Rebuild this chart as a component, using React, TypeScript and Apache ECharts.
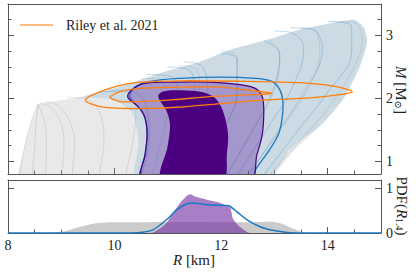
import React, { useEffect, useRef } from "react";
import * as echarts from "echarts";

// ---------- tick values ----------
const R_MAJOR = [8, 10, 12, 14];
const R_MINOR = [8.5, 9, 9.5, 10, 10.5, 11, 11.5, 12, 12.5, 13, 13.5, 14, 14.5];
const M_MAJOR = [1, 2, 3];
const M_MINOR = [1, 1.25, 1.5, 1.75, 2, 2.25, 2.5, 2.75, 3, 3.25];
const PDF_TICKS = [0, 1];

// ---------- M-R bundles (R km, M Msun) ----------
const GRAY_ENVELOPE: number[][] = [
  [8.2, 0.75], [8.25, 1.0], [8.33, 1.3], [8.43, 1.6], [8.52, 1.82], [8.56, 1.91],
  [8.9, 1.96], [9.4, 2.03], [10.0, 2.16], [10.5, 2.3], [11.0, 2.44], [11.6, 2.58],
  [12.2, 2.78], [12.9, 2.94], [13.5, 3.1], [14.1, 3.2], [14.5, 3.25], [14.68, 3.12],
  [14.74, 2.9], [14.6, 2.5], [14.3, 2.0], [13.9, 1.6], [13.4, 1.2], [13.0, 0.8], [12.95, 0.75],
];
const BLUE_ENVELOPE: number[][] = [
  [10.4, 0.75], [10.45, 1.3], [10.35, 1.75], [10.0, 1.98], [9.4, 2.02],
  [10.0, 2.16], [10.5, 2.3], [11.0, 2.44], [11.6, 2.58], [12.2, 2.78], [12.9, 2.94],
  [13.5, 3.1], [14.1, 3.2], [14.5, 3.25], [14.68, 3.12], [14.74, 2.9], [14.6, 2.5],
  [14.3, 2.0], [13.9, 1.6], [13.3, 1.2], [12.9, 0.75],
];
const GRAY_CURVES: number[][][] = [
  [[8.22, 0.78], [8.28, 1.1], [8.36, 1.4], [8.46, 1.7], [8.56, 1.9]],
  [[8.45, 0.78], [8.5, 1.2], [8.52, 1.55], [8.55, 1.78], [8.58, 1.9]],
  [[8.7, 0.78], [8.72, 1.2], [8.7, 1.55], [8.62, 1.8], [8.56, 1.91]],
  [[9.0, 0.78], [9.05, 1.2], [9.0, 1.6], [8.8, 1.86], [8.6, 1.92]],
  [[9.2, 0.78], [9.25, 1.3], [9.15, 1.65], [8.95, 1.88], [8.7, 1.95]],
  [[9.7, 0.78], [9.8, 1.3], [9.75, 1.7], [9.5, 1.98], [9.1, 2.02]],
  [[10.2, 0.78], [10.35, 1.35], [10.4, 1.8], [10.2, 2.12], [9.8, 2.14]],
  [[10.7, 0.78], [10.9, 1.4], [11.0, 1.9], [10.85, 2.3], [10.5, 2.32]],
  [[11.2, 0.78], [11.45, 1.45], [11.6, 2.0], [11.55, 2.45], [11.2, 2.52]],
  [[11.7, 0.78], [12.05, 1.5], [12.3, 2.1], [12.3, 2.65], [12.0, 2.76]],
  [[12.1, 0.78], [12.55, 1.45], [12.95, 2.1], [13.1, 2.7], [12.9, 2.93]],
  [[12.5, 0.78], [13.0, 1.4], [13.5, 2.05], [13.85, 2.7], [13.8, 3.05], [13.5, 3.12]],
  [[12.9, 0.78], [13.5, 1.35], [14.1, 1.95], [14.55, 2.6], [14.65, 2.95], [14.45, 3.22], [14.1, 3.22]],
];
const BLUE_CURVES: number[][][] = [
  [[10.5, 0.78], [10.65, 1.4], [10.6, 1.85], [10.3, 2.12], [9.7, 2.1]],
  [[10.9, 0.78], [11.1, 1.45], [11.2, 1.95], [11.05, 2.35], [10.6, 2.38]],
  [[11.0, 0.78], [11.3, 1.5], [11.5, 2.1], [11.4, 2.45], [11.0, 2.5]],
  [[11.3, 0.78], [11.6, 1.5], [11.75, 2.05], [11.65, 2.5], [11.3, 2.58]],
  [[11.7, 0.78], [12.05, 1.5], [12.3, 2.1], [12.3, 2.62], [12.0, 2.72]],
  [[12.1, 0.78], [12.6, 1.5], [13.0, 2.15], [13.1, 2.7], [12.8, 2.92]],
  [[12.3, 0.78], [12.85, 1.5], [13.35, 2.2], [13.55, 2.8], [13.3, 3.05], [13.0, 3.07]],
  [[12.5, 0.78], [13.1, 1.5], [13.65, 2.2], [13.9, 2.8], [13.7, 3.1], [13.3, 3.12]],
  [[12.8, 0.78], [13.4, 1.45], [14.0, 2.1], [14.45, 2.75], [14.45, 3.15], [14.0, 3.22]],
];

// ---------- credible regions ----------
const PURPLE_OUTER: number[][] = [
  [10.52, 0.7], [10.57, 1.1], [10.61, 1.42], [10.57, 1.7], [10.44, 1.87], [10.25, 2.02],
  [10.33, 2.14], [10.57, 2.24], [11.13, 2.26], [11.79, 2.26], [12.35, 2.22], [12.64, 2.16],
  [12.77, 2.03], [12.8, 1.79], [12.77, 1.42], [12.67, 1.1], [12.54, 0.7],
];
const PURPLE_INNER: number[][] = [
  [10.89, 0.7], [11.0, 1.26], [11.04, 1.58], [10.98, 1.79], [10.82, 2.03], [10.91, 2.11],
  [11.23, 2.13], [11.66, 2.1], [11.85, 2.03], [11.98, 1.9], [12.07, 1.7], [12.13, 1.42],
  [12.11, 1.15], [12.02, 0.7],
];
const BLUE_CONTOUR: number[][] = [
  [10.53, 0.7], [10.59, 1.18], [10.61, 1.5], [10.52, 1.79], [10.29, 2.02], [10.38, 2.18],
  [10.67, 2.27], [11.23, 2.32], [11.98, 2.34], [12.64, 2.32], [12.95, 2.27], [13.1, 2.14],
  [13.16, 1.94], [13.14, 1.66], [13.07, 1.42], [12.88, 1.15], [12.64, 0.86], [12.58, 0.7],
];
const RILEY_OUTER: number[][] = [
  [9.45, 1.97], [9.73, 2.11], [10.29, 2.24], [11.23, 2.28], [12.54, 2.27], [13.48, 2.25],
  [14.14, 2.19], [14.46, 2.11], [14.23, 2.06], [13.67, 2.01], [12.69, 1.97], [11.17, 1.86],
  [10.29, 1.84], [9.73, 1.87],
];
const RILEY_INNER: number[][] = [
  [9.91, 2.02], [10.1, 2.11], [10.48, 2.16], [11.23, 2.18], [11.98, 2.18], [12.54, 2.13],
  [12.95, 2.08], [12.6, 2.06], [11.79, 2.03], [11.13, 1.98], [10.48, 1.95], [10.1, 1.95],
];

// ---------- PDF(R_1.4) ----------
const PDF_PRIOR: number[][] = [
  [8.0, 0], [8.7, 0], [8.9, 0.01], [9.1, 0.05], [9.3, 0.12], [9.5, 0.18], [9.7, 0.22],
  [10.0, 0.24], [10.5, 0.24], [11.0, 0.245], [11.5, 0.245], [12.0, 0.24], [12.5, 0.24],
  [12.9, 0.25], [13.1, 0.22], [13.3, 0.12], [13.5, 0.03], [13.6, 0], [15, 0],
];
const PDF_NICER: number[][] = [
  [10.6, 0], [10.72, 0.01], [10.85, 0.1], [10.98, 0.23], [11.1, 0.45], [11.23, 0.67],
  [11.36, 0.83], [11.42, 0.86], [11.51, 0.81], [11.73, 0.74], [11.98, 0.67], [12.17, 0.56],
  [12.22, 0.32], [12.35, 0.14], [12.54, 0], [12.6, 0],
];
const PDF_POSTERIOR: number[][] = [
  [8, 0], [10.2, 0], [10.48, 0.01], [10.72, 0.07], [10.98, 0.3], [11.17, 0.52], [11.36, 0.65],
  [11.47, 0.67], [11.73, 0.63], [12.11, 0.61], [12.17, 0.59], [12.3, 0.47], [12.48, 0.3],
  [12.73, 0.14], [12.97, 0.06], [13.24, 0.01], [13.5, 0], [15, 0],
];

const SERIF = '"Liberation Serif", "DejaVu Serif", serif';
const FRAME = "#555";
const ORANGE = "#ff7f0e";
const BLUE = "#1a78c2";
const INDIGO = "#4b0082";

function polygon(pts: number[][], style: any, z: number, smooth = 0.35) {
  return {
    type: "custom",
    xAxisIndex: 0,
    yAxisIndex: 0,
    clip: true,
    silent: true,
    z,
    data: [[pts[0][0], pts[0][1]]],
    renderItem: (_p: any, api: any) => ({
      type: "polygon",
      shape: { points: pts.map((p) => api.coord(p)), smooth },
      style,
    }),
  };
}

function curve(pts: number[][], color: string, z: number) {
  return {
    type: "line",
    xAxisIndex: 0,
    yAxisIndex: 0,
    data: pts,
    smooth: 0.4,
    symbol: "none",
    silent: true,
    clip: true,
    z,
    lineStyle: { color, width: 0.6 },
  };
}

const lineStyle = { color: FRAME, width: 1 };

export default function App() {
  const ref = useRef<HTMLDivElement>(null);
  useEffect(() => {
    const chart = echarts.init(ref.current!, null, { renderer: "svg" });
    const xBase = { type: "value", min: 8, max: 15, splitLine: { show: false } };
    const yTop = { type: "value", min: 0.8, max: 3.5, gridIndex: 0, splitLine: { show: false } };
    const yBot = { type: "value", min: 0, max: 1.18, gridIndex: 1, splitLine: { show: false } };
    const label = { fontFamily: SERIF, fontSize: 14, color: "#222" };
    const series: any[] = [];
    series.push(polygon(GRAY_ENVELOPE, { fill: "rgba(175,175,175,0.28)" }, 1, 0.2));
    GRAY_CURVES.forEach((c) => series.push(curve(c, "rgba(140,140,140,0.4)", 2)));
    series.push(polygon(BLUE_ENVELOPE, { fill: "rgba(90,160,210,0.2)" }, 3, 0.2));
    BLUE_CURVES.forEach((c) => series.push(curve(c, "rgba(40,130,195,0.5)", 4)));
    series.push(polygon(BLUE_CONTOUR, { fill: "none", stroke: BLUE, lineWidth: 1.3 }, 5));
    series.push(polygon(PURPLE_OUTER, { fill: "rgba(110,60,170,0.42)", stroke: INDIGO, lineWidth: 1.2 }, 6));
    series.push(polygon(PURPLE_INNER, { fill: INDIGO }, 7));
    series.push(polygon(RILEY_OUTER, { fill: "none", stroke: ORANGE, lineWidth: 1.3 }, 8, 0.3));
    series.push(polygon(RILEY_INNER, { fill: "none", stroke: ORANGE, lineWidth: 1.3 }, 8, 0.2));
    // bottom panel
    series.push({
      type: "line", xAxisIndex: 3, yAxisIndex: 4, data: PDF_PRIOR, smooth: 0.3, symbol: "none",
      silent: true, lineStyle: { width: 0 }, areaStyle: { color: "#cbcbcb", opacity: 1 }, z: 2,
    });
    series.push({
      type: "line", xAxisIndex: 3, yAxisIndex: 4, data: PDF_NICER, smooth: 0.2, symbol: "none",
      silent: true, lineStyle: { width: 0 }, areaStyle: { color: "rgba(110,40,160,0.6)", opacity: 1 }, z: 3,
    });
    series.push({
      type: "line", xAxisIndex: 3, yAxisIndex: 4, data: PDF_POSTERIOR, smooth: 0.3, symbol: "none",
      silent: true, lineStyle: { color: BLUE, width: 1.5 }, z: 4,
    });

    chart.setOption({
      animation: false,
      grid: [
        { left: 8, top: 4, width: 373, height: 170 },
        { left: 8, top: 180, width: 373, height: 53 },
      ],
      xAxis: [
        { ...xBase, gridIndex: 0, position: "bottom", axisLine: { show: true, lineStyle },
          axisTick: { show: true, inside: true, length: 6, customValues: R_MAJOR, lineStyle },
          axisLabel: { show: false } },
        { ...xBase, gridIndex: 0, position: "bottom", axisLine: { show: false },
          axisTick: { show: true, inside: true, length: 3.5, customValues: R_MINOR, lineStyle },
          axisLabel: { show: false } },
        { ...xBase, gridIndex: 0, position: "top", axisLine: { show: true, lineStyle },
          axisTick: { show: false }, axisLabel: { show: false } },
        { ...xBase, gridIndex: 1, position: "bottom", axisLine: { show: true, lineStyle },
          axisTick: { show: true, inside: true, length: 6, customValues: R_MAJOR, lineStyle },
          axisLabel: { show: true, customValues: R_MAJOR, margin: 5, ...label } },
        { ...xBase, gridIndex: 1, position: "bottom", axisLine: { show: false },
          axisTick: { show: true, inside: true, length: 3.5, customValues: R_MINOR, lineStyle },
          axisLabel: { show: false } },
        { ...xBase, gridIndex: 1, position: "top", axisLine: { show: true, lineStyle },
          axisTick: { show: false }, axisLabel: { show: false } },
      ],
      yAxis: [
        { ...yTop, position: "left", axisLine: { show: true, lineStyle },
          axisTick: { show: true, inside: true, length: 6, customValues: M_MAJOR, lineStyle },
          axisLabel: { show: false } },
        { ...yTop, position: "left", axisLine: { show: false },
          axisTick: { show: true, inside: true, length: 3.5, customValues: M_MINOR, lineStyle },
          axisLabel: { show: false } },
        { ...yTop, position: "right", axisLine: { show: true, lineStyle },
          axisTick: { show: true, inside: true, length: 6, customValues: M_MAJOR, lineStyle },
          axisLabel: { show: true, customValues: M_MAJOR, margin: 5, ...label } },
        { ...yTop, position: "right", axisLine: { show: false },
          axisTick: { show: true, inside: true, length: 3.5, customValues: M_MINOR, lineStyle },
          axisLabel: { show: false } },
        { ...yBot, position: "left", axisLine: { show: true, lineStyle },
          axisTick: { show: true, inside: true, length: 6, customValues: PDF_TICKS, lineStyle },
          axisLabel: { show: false } },
        { ...yBot, position: "right", axisLine: { show: true, lineStyle },
          axisTick: { show: true, inside: true, length: 6, customValues: PDF_TICKS, lineStyle },
          axisLabel: { show: true, customValues: PDF_TICKS, margin: 5, showMinLabel: true, ...label } },
      ],
      graphic: [
        { type: "line", shape: { x1: 20, y1: 25, x2: 53, y2: 25 }, style: { stroke: "rgba(255,127,14,0.7)", lineWidth: 1.5 }, z: 100 },
        { type: "text", x: 66, y: 25, z: 100,
          style: { text: "Riley et al. 2021", fontFamily: SERIF, fontSize: 14, fill: "#222", verticalAlign: "middle", align: "left" } },
        { type: "text", x: 194, y: 260, z: 100,
          style: { text: "{i|R} [km]", fontFamily: SERIF, fontSize: 15, fill: "#222", align: "center", verticalAlign: "middle",
            rich: { i: { fontFamily: SERIF, fontSize: 15, fontStyle: "italic", fill: "#222" } } } },
        { type: "text", x: 401, y: 90, rotation: -Math.PI / 2, z: 100,
          style: { text: "{i|M} [M{s|⊙}]", fontFamily: SERIF, fontSize: 15, fill: "#222", align: "center", verticalAlign: "middle",
            rich: { i: { fontFamily: SERIF, fontSize: 15, fontStyle: "italic", fill: "#222" },
                    s: { fontFamily: SERIF, fontSize: 10, fill: "#222", verticalAlign: "bottom", padding: [6, 0, 0, 0] } } } },
        { type: "text", x: 402, y: 206, rotation: -Math.PI / 2, z: 100,
          style: { text: "PDF({i|R}{s|1.4})", fontFamily: SERIF, fontSize: 15, fill: "#222", align: "center", verticalAlign: "middle",
            rich: { i: { fontFamily: SERIF, fontSize: 15, fontStyle: "italic", fill: "#222" },
                    s: { fontFamily: SERIF, fontSize: 10, fill: "#222", verticalAlign: "bottom", padding: [6, 0, 0, 0] } } } },
      ],
      series,
    });
    return () => chart.dispose();
  }, []);
  return <div ref={ref} style={{ position: "absolute", left: 0, top: 0, width: 416, height: 274 }} />;
}
